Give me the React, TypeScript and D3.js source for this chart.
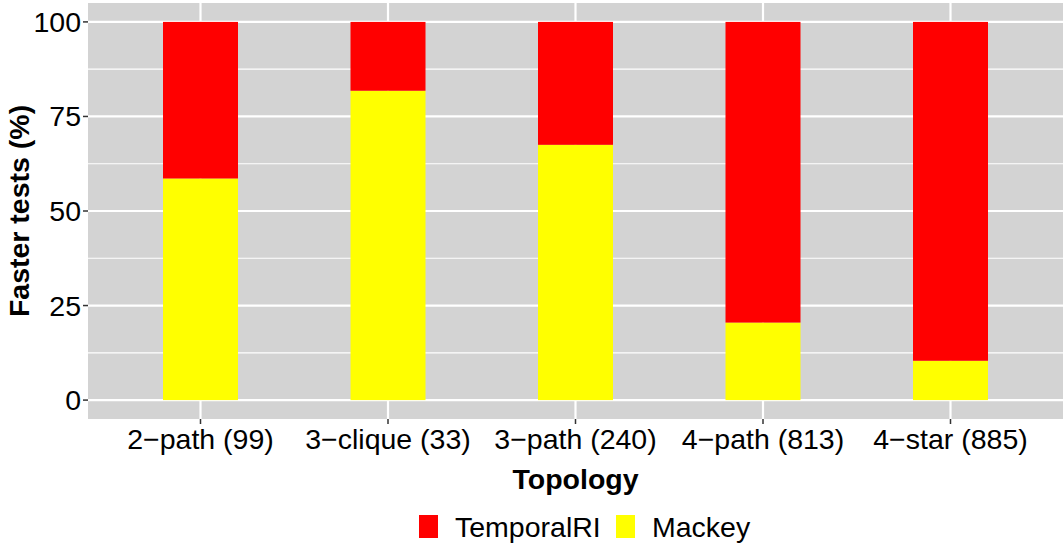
import React, { useEffect, useRef } from "react";
import * as d3 from "d3";

// Topology categories (x axis)
const categories = ["2−path (99)", "3−clique (33)", "3−path (240)", "4−path (813)", "4−star (885)"];
// share of tests where Mackey is faster (%)
const mackey = [58.6, 81.8, 67.5, 20.5, 10.4];
// share of tests where TemporalRI is faster (%)
const temporalRI = mackey.map((v) => 100 - v);
const yTicks = [0, 25, 50, 75, 100];
const seriesNames = ["TemporalRI", "Mackey"];
const seriesColors = ["#FF0000", "#FFFF00"];

const W = 1064;
const H = 545;
const FONT = "Liberation Sans, Arial, sans-serif";
const FS = 28.5;

const App = () => {
  const ref = useRef<SVGSVGElement>(null);

  useEffect(() => {
    const svg = d3.select(ref.current);
    svg.selectAll("*").remove();

    const panel = { left: 88, right: 1063, top: 3, bottom: 419 };

    // discrete scale with ggplot-style 0.6 expansion
    const x = d3
      .scaleLinear()
      .domain([0.4, categories.length + 0.6])
      .range([panel.left, panel.right]);
    const y = d3.scaleLinear().domain([-5, 105]).range([panel.bottom, panel.top]);
    const barW = x(1.4) - x(1);

    svg
      .append("rect")
      .attr("x", panel.left)
      .attr("y", panel.top)
      .attr("width", panel.right - panel.left)
      .attr("height", panel.bottom - panel.top)
      .attr("fill", "#D3D3D3");

    // minor grid
    yTicks.slice(0, -1).forEach((t) => {
      svg
        .append("line")
        .attr("x1", panel.left)
        .attr("x2", panel.right)
        .attr("y1", y(t + 12.5))
        .attr("y2", y(t + 12.5))
        .attr("stroke", "white")
        .attr("stroke-width", 1.2);
    });
    // major grid
    yTicks.forEach((t) => {
      svg
        .append("line")
        .attr("x1", panel.left)
        .attr("x2", panel.right)
        .attr("y1", y(t))
        .attr("y2", y(t))
        .attr("stroke", "white")
        .attr("stroke-width", 2.2);
    });
    categories.forEach((_, i) => {
      svg
        .append("line")
        .attr("x1", x(i + 1))
        .attr("x2", x(i + 1))
        .attr("y1", panel.top)
        .attr("y2", panel.bottom)
        .attr("stroke", "white")
        .attr("stroke-width", 2.2);
    });

    // stacked bars
    const stack = categories.map((c, i) => ({ c, mackey: mackey[i], temporalRI: temporalRI[i] }));
    const series = d3.stack<any>().keys(["mackey", "temporalRI"])(stack);
    const colorOf: Record<string, string> = { temporalRI: seriesColors[0], mackey: seriesColors[1] };
    series.forEach((s) => {
      svg
        .append("g")
        .selectAll("rect")
        .data(s)
        .enter()
        .append("rect")
        .attr("x", (_, i) => x(i + 1) - barW / 2)
        .attr("width", barW)
        .attr("y", (d) => y(d[1]))
        .attr("height", (d) => y(d[0]) - y(d[1]))
        .attr("fill", colorOf[s.key]);
    });

    // y axis
    yTicks.forEach((t) => {
      svg
        .append("line")
        .attr("x1", panel.left - 5)
        .attr("x2", panel.left)
        .attr("y1", y(t))
        .attr("y2", y(t))
        .attr("stroke", "#333")
        .attr("stroke-width", 1.5);
      svg
        .append("text")
        .attr("x", panel.left - 7)
        .attr("y", y(t) + 10)
        .attr("text-anchor", "end")
        .attr("font-family", FONT)
        .attr("font-size", FS)
        .attr("fill", "#000")
        .text(t);
    });

    // x axis
    categories.forEach((c, i) => {
      svg
        .append("line")
        .attr("x1", x(i + 1))
        .attr("x2", x(i + 1))
        .attr("y1", panel.bottom)
        .attr("y2", panel.bottom + 5)
        .attr("stroke", "#333")
        .attr("stroke-width", 1.5);
      svg
        .append("text")
        .attr("x", x(i + 1))
        .attr("y", 449)
        .attr("text-anchor", "middle")
        .attr("font-family", FONT)
        .attr("font-size", FS)
        .attr("fill", "#000")
        .text(c);
    });

    // axis titles
    svg
      .append("text")
      .attr("x", (panel.left + panel.right) / 2)
      .attr("y", 489)
      .attr("text-anchor", "middle")
      .attr("font-family", FONT)
      .attr("font-weight", "bold")
      .attr("font-size", FS)
      .text("Topology");
    svg
      .append("text")
      .attr("transform", `translate(29,${(panel.top + panel.bottom) / 2}) rotate(-90)`)
      .attr("text-anchor", "middle")
      .attr("font-family", FONT)
      .attr("font-weight", "bold")
      .attr("font-size", FS)
      .text("Faster tests (%)");

    // legend
    const legendX = [419, 616];
    seriesNames.forEach((name, i) => {
      svg
        .append("rect")
        .attr("x", legendX[i])
        .attr("y", 515)
        .attr("width", 19)
        .attr("height", 23)
        .attr("fill", seriesColors[i]);
      svg
        .append("text")
        .attr("x", legendX[i] + 36)
        .attr("y", 537)
        .attr("font-family", FONT)
        .attr("font-size", FS)
        .attr("fill", "#000")
        .text(name);
    });
  }, []);

  return <svg ref={ref} width={W} height={H} style={{ position: "absolute", left: 0, top: 0 }} />;
};

export default App;
